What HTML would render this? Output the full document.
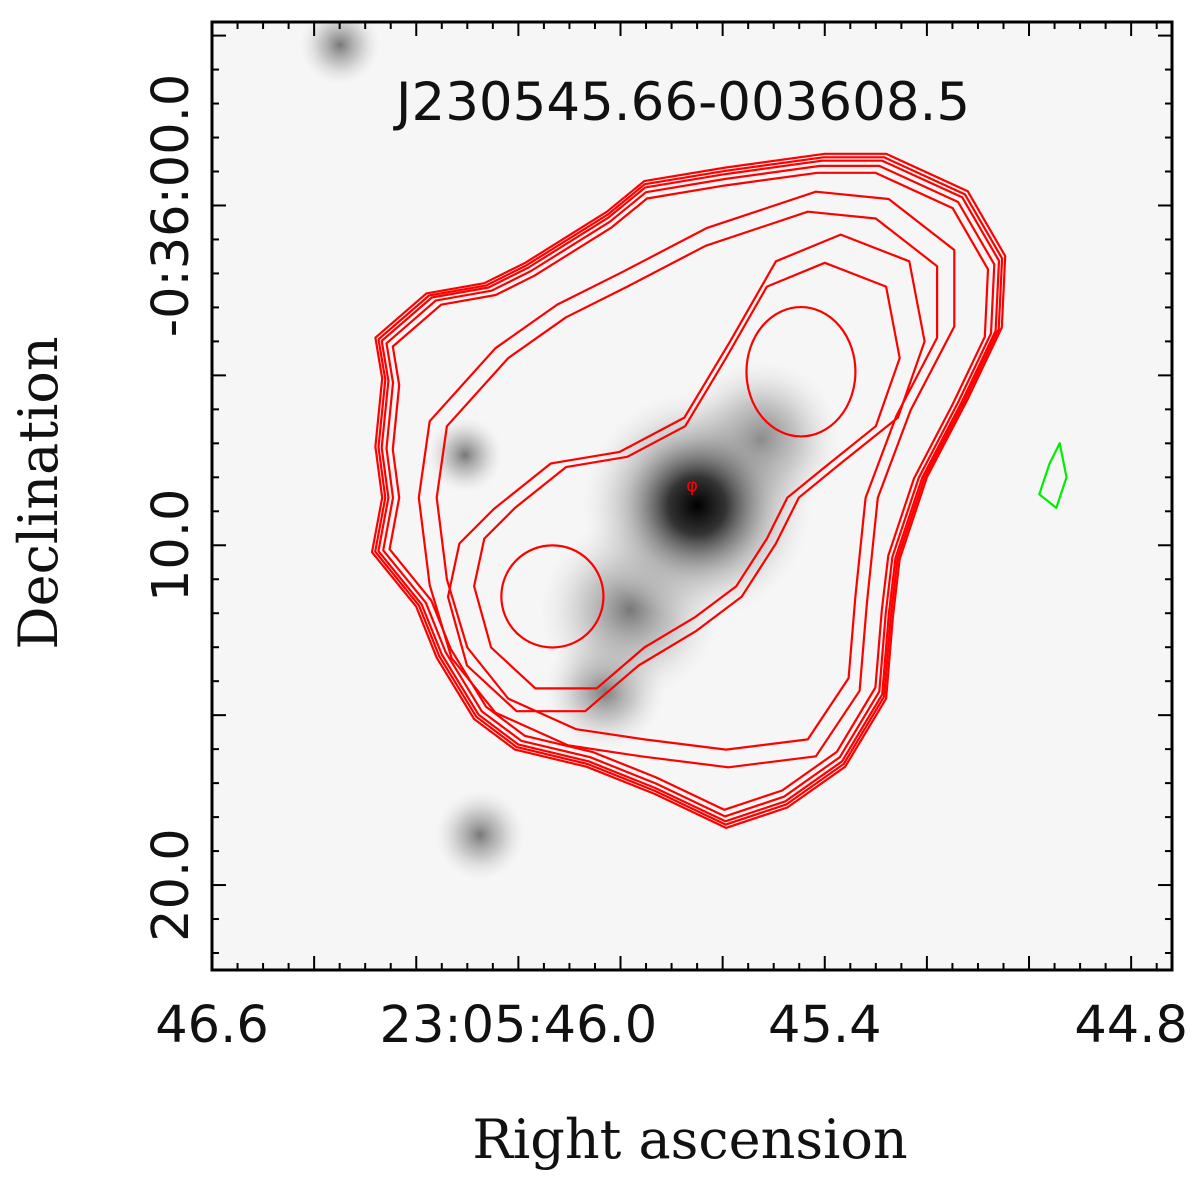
<!DOCTYPE html>
<html><head><meta charset="utf-8"><style>
html,body{margin:0;padding:0;background:#fff;}
</style></head><body>
<svg id="chart" width="1200" height="1182" xmlns="http://www.w3.org/2000/svg" font-family="DejaVu Sans, Liberation Sans, sans-serif">
<defs>
<radialGradient id="core"><stop offset="0" stop-color="#000"/><stop offset="0.25" stop-color="#333"/><stop offset="0.6" stop-color="#999" stop-opacity="0.6"/><stop offset="1" stop-color="#ddd" stop-opacity="0"/></radialGradient>
<radialGradient id="blob"><stop offset="0" stop-color="#777"/><stop offset="0.5" stop-color="#aaa" stop-opacity="0.6"/><stop offset="1" stop-color="#ddd" stop-opacity="0"/></radialGradient>
<clipPath id="plotclip"><rect x="212" y="22" width="960" height="948"/></clipPath>
</defs>
<g id="plot" clip-path="url(#plotclip)"></g>
<g id="axes"></g>
</svg>
<script>
// axis ranges
const raLeft = 46.6, raRight = 44.72;   // seconds of RA
const decTop = -5.4, decBottom = 22.5;  // arcsec below -0:36:00
const xTickValues = [46.6, 46.0, 45.4, 44.8];
const xTickLabels = ["46.6", "23:05:46.0", "45.4", "44.8"];
const yTickValues = [0, 10, 20];
const yTickLabels = ["-0:36:00.0", "10.0", "20.0"];
// source position and contour shapes (arcsec offsets: east, south)
const sourceRA = 45.66, sourceDec = 8.6;
const outerContour = [[9.3,-4.7],[7.8,-6.0],[6.1,-6.3],[4.9,-6.9],[2.5,-8.4],[1.4,-9.3],[-1.0,-9.7],[-3.9,-10.1],[-5.7,-10.1],[-8.1,-9.0],[-9.2,-7.1],[-9.1,-5.0],[-8.1,-2.9],[-6.9,-0.6],[-6.1,1.8],[-5.9,3.5],[-5.7,5.9],[-4.5,7.9],[-2.8,9.1],[-1.0,9.7],[1.1,8.7],[3.1,7.9],[5.2,7.4],[6.4,6.5],[7.5,4.7],[8.1,3.2],[9.4,1.6],[9.1,0],[9.3,-1.5],[9.1,-3.5]];
const midContour = [[7.2,-2.1],[5.4,-4.1],[3.7,-5.3],[1.9,-6.2],[-0.4,-7.4],[-3.4,-8.4],[-5.4,-8.2],[-7.2,-6.8],[-7.2,-4.7],[-6.0,-2.4],[-5.1,0],[-4.8,2.9],[-4.6,5.3],[-3.4,7.1],[-1.0,7.4],[1.4,7.1],[3.4,6.8],[5.4,5.9],[6.6,4.4],[7.2,2.4],[7.5,0]];
const innerContour = [[5.2,0.3],[3.7,-0.9],[1.9,-1.2],[0.2,-2.1],[-1.0,-4.1],[-2.2,-6.2],[-3.9,-6.9],[-5.7,-6.2],[-6.1,-4.1],[-5.4,-2.1],[-3.9,-0.9],[-2.8,0],[-2.2,1.2],[-1.3,2.6],[-0.1,3.5],[1.4,4.4],[2.8,5.6],[4.6,5.6],[5.9,4.4],[6.4,2.6],[6.1,1.2]];
const outerScales = [1.0, 0.99, 0.98, 0.965, 0.945];
const midScales = [1.07, 1.0];
const innerScales = [1.12, 1.0];
const peaks = [[-3.2,-3.7,1.6,1.9],[4.1,2.9,1.5,1.5]];
const greenContour = [[-10.8,-1.6],[-11.0,-0.6],[-10.7,0.3],[-10.2,-0.1],[-10.5,-1.0]];

const x0=212,x1=1172,y0=22,y1=970;
function xScale(ra){return x0+(raLeft-ra)/(raLeft-raRight)*(x1-x0);}
function yScale(d){return y0+(d-decTop)/(decBottom-decTop)*(y1-y0);}
const pxPerArcsec=(x1-x0)/((raLeft-raRight)*15*0.99992);
function offX(e){return xScale(sourceRA)-e*pxPerArcsec;}
function offY(s){return yScale(sourceDec)+s*pxPerArcsec;}
const NS="http://www.w3.org/2000/svg";
function mk(tag,attrs,parent){const e=document.createElementNS(NS,tag);for(const k in attrs)e.setAttribute(k,attrs[k]);parent.appendChild(e);return e;}
const plot=document.getElementById('plot'),axes=document.getElementById('axes');

let bg=mk('rect',{x:x0,y:y0,width:x1-x0,height:y1-y0,fill:'#f6f6f6'},plot);


const blobs=[[340,45,40],[465,455,38],[605,690,60],[480,835,45],[630,610,90],[760,440,80]];
blobs.forEach(b=>{const c=mk('circle',{cx:b[0],cy:b[1],r:b[2],fill:'url(#blob)'},plot);

});
let core=mk('ellipse',{cx:offX(0)+5,cy:offY(0)+8,rx:115,ry:115,fill:'url(#core)'},plot);



function poly(pts,s,color,name){const p=pts.map(q=>offX(q[0]*s).toFixed(1)+','+offY(q[1]*s).toFixed(1)).join(' ');
const e=mk('polygon',{points:p,fill:'none',stroke:color,'stroke-width':2.2,'stroke-linejoin':'round'},plot);

}
outerScales.forEach(s=>poly(outerContour,s,'#ff0000','radio-contour-outer'));
midScales.forEach(s=>poly(midContour,s,'#ff0000','radio-contour-mid'));
innerScales.forEach(s=>poly(innerContour,s,'#ff0000','radio-contour-inner'));
peaks.forEach(p=>{const e=mk('ellipse',{cx:offX(p[0]),cy:offY(p[1]),rx:p[2]*pxPerArcsec,ry:p[3]*pxPerArcsec,fill:'none',stroke:'#ff0000','stroke-width':2.2},plot);

});
poly(greenContour,1,'#00ee00','green-contour');
let mark=mk('text',{x:offX(0),y:offY(0)-6,'font-size':18,fill:'#ff0000','text-anchor':'middle'},plot);mark.textContent='φ';



let title=mk('text',{x:683,y:120,'font-size':53,'text-anchor':'middle',fill:'#111'},plot);title.textContent='J230545.66-003608.5';



let frame=mk('rect',{x:x0,y:y0,width:x1-x0,height:y1-y0,fill:'none',stroke:'#000','stroke-width':3},axes);


for(let i=0;i<=40;i++){const ra=46.6-i*0.05;if(ra<raRight)break;const x=xScale(ra);const maj=i%4===0;const L=maj?14:7;
 mk('line',{x1:x,y1:y1,x2:x,y2:y1-L,stroke:'#000','stroke-width':2},axes);
 mk('line',{x1:x,y1:y0,x2:x,y2:y0+L,stroke:'#000','stroke-width':2},axes);}
for(let d=-5;d<=22;d++){const y=yScale(d);const maj=d%5===0;const L=maj?14:7;
 mk('line',{x1:x0,y1:y,x2:x0+L,y2:y,stroke:'#000','stroke-width':2},axes);
 mk('line',{x1:x1,y1:y,x2:x1-L,y2:y,stroke:'#000','stroke-width':2},axes);}
xTickValues.forEach((v,i)=>{const t=mk('text',{x:xScale(v),y:1042,'font-size':51,'text-anchor':'middle',fill:'#111'},axes);t.textContent=xTickLabels[i];

});
yTickValues.forEach((v,i)=>{const y=yScale(v);const t=mk('text',{x:0,y:0,'font-size':51,'text-anchor':'middle',fill:'#111',transform:'translate(188,'+y+') rotate(-90)'},axes);t.textContent=yTickLabels[i];

});
let xt=mk('text',{x:690,y:1158,'font-size':54,'text-anchor':'middle',fill:'#111',style:'font-family:"DejaVu Serif","Liberation Serif",serif'},axes);xt.textContent='Right ascension';


let yt=mk('text',{x:0,y:0,'font-size':54,'text-anchor':'middle',fill:'#111',style:'font-family:"DejaVu Serif","Liberation Serif",serif',transform:'translate(57,493) rotate(-90)'},axes);yt.textContent='Declination';


</script>
</body></html>
